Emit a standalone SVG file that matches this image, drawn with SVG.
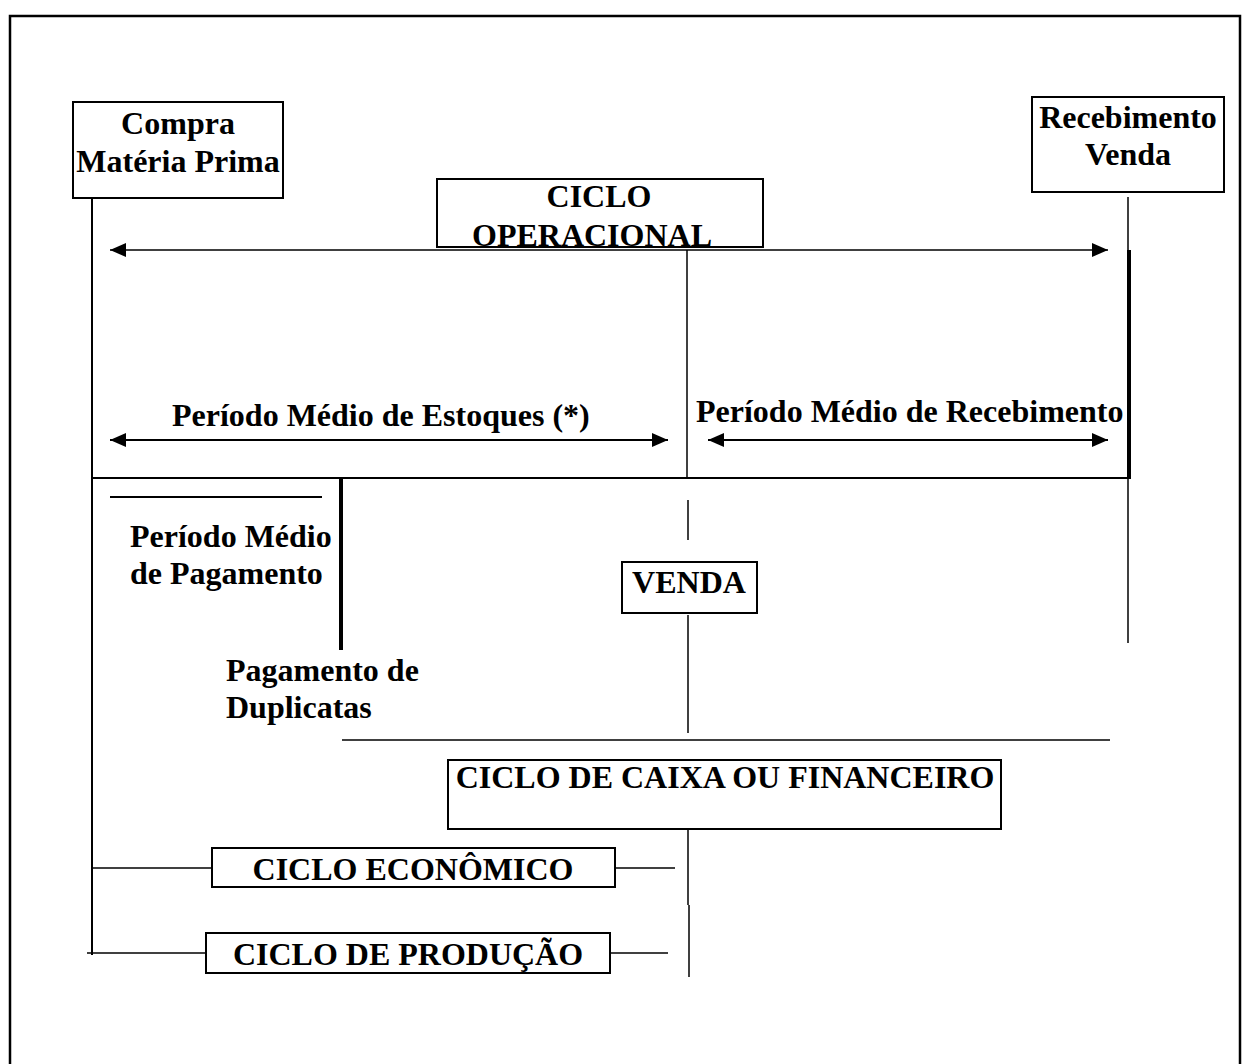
<svg xmlns="http://www.w3.org/2000/svg" width="1246" height="1064" viewBox="0 0 1246 1064">
<style>
text{font-family:"Liberation Serif","Times New Roman",serif;font-weight:bold;font-size:32px;fill:#000}
.box{fill:#fff;stroke:#000;stroke-width:2}
.thin{stroke:#000;stroke-width:1.5;fill:none}
.mid{stroke:#000;stroke-width:2;fill:none}
.thick{stroke:#000;stroke-width:4;fill:none}
.c{text-anchor:middle}
</style>
<defs>
<marker id="ah" markerUnits="userSpaceOnUse" markerWidth="18" markerHeight="14" refX="16" refY="7" orient="auto-start-reverse">
<path d="M0,0 L16,7 L0,14 Z" fill="#000"/>
</marker>
</defs>
<rect x="10" y="16" width="1230" height="1060" fill="#fff" stroke="#000" stroke-width="2.5"/>
<g id="connectors">
<line class="thin" x1="110" y1="250" x2="1108" y2="250" marker-start="url(#ah)" marker-end="url(#ah)"/>
<line class="mid" x1="110" y1="440" x2="668" y2="440" marker-start="url(#ah)" marker-end="url(#ah)"/>
<line class="mid" x1="708" y1="440" x2="1108" y2="440" marker-start="url(#ah)" marker-end="url(#ah)"/>
<line class="mid" x1="92" y1="198" x2="92" y2="955"/>
<line class="thin" x1="1128" y1="197" x2="1128" y2="250"/>
<line class="thick" x1="1129" y1="250" x2="1129" y2="479"/>
<line class="thin" x1="1128" y1="479" x2="1128" y2="643"/>
<line class="thin" x1="687" y1="250" x2="687" y2="478"/>
<line class="mid" x1="91" y1="478" x2="1131" y2="478"/>
<line class="mid" x1="110" y1="497" x2="322" y2="497"/>
<line class="thick" x1="341" y1="478" x2="341" y2="650"/>
<line class="thin" x1="688" y1="500" x2="688" y2="540"/>
<line class="thin" x1="688" y1="615" x2="688" y2="733"/>
<line class="thin" x1="342" y1="740" x2="1110" y2="740"/>
<line class="thin" x1="688" y1="829" x2="688" y2="905"/>
<line class="thin" x1="689" y1="905" x2="689" y2="977"/>
<line class="thin" x1="92" y1="868" x2="212" y2="868"/>
<line class="thin" x1="615" y1="868" x2="675" y2="868"/>
<line class="thin" x1="87" y1="953" x2="206" y2="953"/>
<line class="thin" x1="610" y1="953" x2="668" y2="953"/>
</g>
<g id="compra">
<rect class="box" x="73" y="102" width="210" height="96"/>
<text class="c" x="178" y="134">Compra</text>
<text class="c" x="178" y="172">Matéria Prima</text>
</g>
<g id="recebimento">
<rect class="box" x="1032" y="97" width="192" height="95"/>
<text class="c" x="1128" y="128">Recebimento</text>
<text class="c" x="1128" y="165">Venda</text>
</g>
<g id="ciclo-operacional">
<rect class="box" x="437" y="179" width="326" height="68"/>
<text class="c" x="599" y="207">CICLO</text>
<text class="c" x="592" y="246">OPERACIONAL</text>
</g>
<g id="pme">
<text x="172" y="426">Período Médio de Estoques (*)</text>
</g>
<g id="pmr">
<text x="696" y="422">Período Médio de Recebimento</text>
</g>
<g id="pmp">
<text x="130" y="547">Período Médio</text>
<text x="130" y="584">de Pagamento</text>
</g>
<g id="pagamento">
<text x="226" y="681">Pagamento de</text>
<text x="226" y="718">Duplicatas</text>
</g>
<g id="venda">
<rect class="box" x="622" y="562" width="135" height="51"/>
<text class="c" x="689" y="593">VENDA</text>
</g>
<g id="ciclo-caixa">
<rect class="box" x="448" y="760" width="553" height="69"/>
<text class="c" x="725" y="788">CICLO DE CAIXA OU FINANCEIRO</text>
</g>
<g id="ciclo-economico">
<rect class="box" x="212" y="848" width="403" height="39"/>
<text class="c" x="413" y="880">CICLO ECONÔMICO</text>
</g>
<g id="ciclo-producao">
<rect class="box" x="206" y="933" width="404" height="40"/>
<text class="c" x="408" y="965">CICLO DE PRODUÇÃO</text>
</g>
</svg>
